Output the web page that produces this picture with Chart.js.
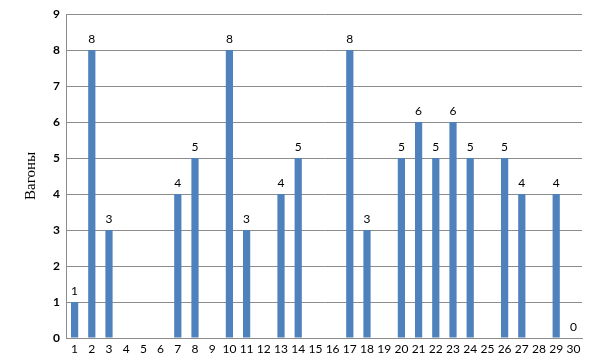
<!DOCTYPE html>
<html>
<head>
<meta charset="utf-8">
<script src="https://cdn.jsdelivr.net/npm/chart.js@4/dist/chart.umd.min.js"></script>
<style>
  html, body { margin: 0; padding: 0; background: #fff; }
  #wrap { width: 593px; height: 363px; }
</style>
</head>
<body>
<div id="wrap"><canvas id="chart" width="593" height="363"></canvas></div>
<script>
/* days of the month */
var days = ["1","2","3","4","5","6","7","8","9","10","11","12","13","14","15",
            "16","17","18","19","20","21","22","23","24","25","26","27","28","29","30"];
/* wagons per day, null = no value shown */
var wagons = [1, 8, 3, null, null, null, 4, 5, null, 8, 3, null, 4, 5, null,
              null, 8, 3, null, 5, 6, 5, 6, 5, null, 5, 4, null, 4, 0];
var yTitle = "Вагоны";

/* little plugin to write the value over each bar */
var barLabels = {
  id: "barLabels",
  afterDatasetsDraw: function (chart) {
    var ctx = chart.ctx;
    var meta = chart.getDatasetMeta(0);
    ctx.save();
    ctx.font = "12px Lato";
    ctx.fillStyle = "#000";
    ctx.textAlign = "center";
    ctx.textBaseline = "bottom";
    meta.data.forEach(function (bar, i) {
      var v = wagons[i];
      if (v === null) return;
      ctx.fillText(String(v), bar.x, bar.y - 5);
    });
    ctx.restore();
  }
};

var ctx = document.getElementById("chart");
var myChart = new Chart(ctx, {
  type: "bar",
  data: {
    labels: days,
    datasets: [
      {
        data: wagons,
        backgroundColor: "#4F81BD",
        barPercentage: 0.42,
        categoryPercentage: 1.0
      }
    ]
  },
  options: {
    responsive: false,
    animation: false,
    layout: { padding: { left: 0, right: 11, top: 14, bottom: 0 } },
    plugins: {
      legend: { display: false },
      tooltip: { enabled: false }
    },
    scales: {
      x: {
        grid: { display: false, drawTicks: false },
        border: { color: "#8c8c8c", width: 1 },
        ticks: {
          color: "#000",
          font: { family: "Lato", size: 12 },
          padding: 4,
          maxRotation: 0,
          autoSkip: false
        },
        afterFit: function (scale) { scale.height = 25; }
      },
      y: {
        min: 0,
        max: 9,
        grid: { color: "#8c8c8c", drawTicks: false },
        border: { color: "#8c8c8c", width: 1 },
        ticks: {
          stepSize: 1,
          color: "#000",
          font: { family: "Lato", size: 12, weight: "bold" },
          padding: 6
        },
        title: {
          display: true,
          text: yTitle,
          color: "#000",
          font: { family: "Liberation Serif", size: 15 },
          padding: { top: 22, bottom: 0 }
        },
        afterFit: function (scale) { scale.width = 66; }
      }
    }
  },
  plugins: [barLabels]
});
</script>
</body>
</html>
